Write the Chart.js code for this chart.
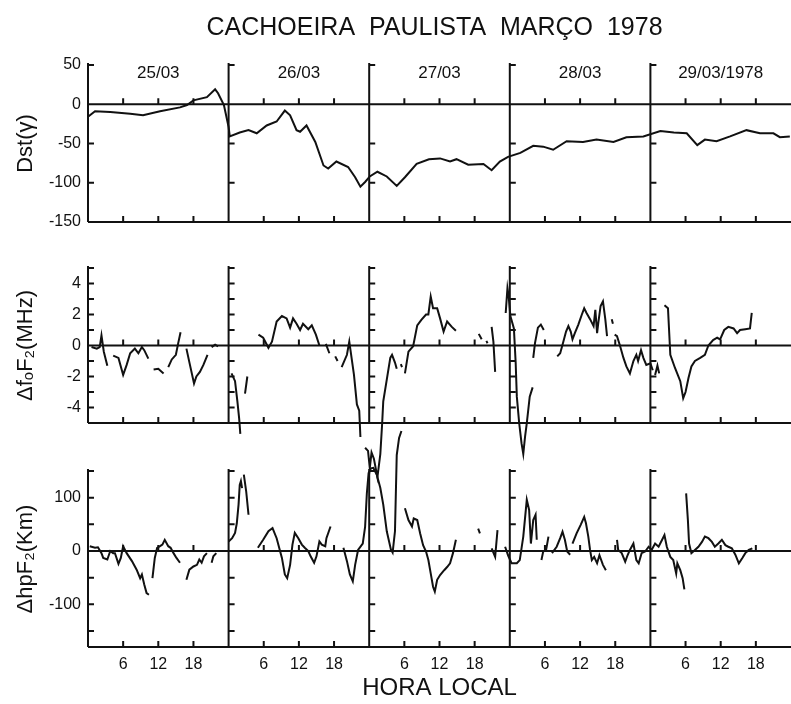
<!DOCTYPE html>
<html>
<head>
<meta charset="utf-8">
<script src="https://cdn.jsdelivr.net/npm/chart.js@4"></script>
<style>
  html, body { margin: 0; padding: 0; background: #fff; }
  #wrap { position: relative; width: 791px; height: 704px; }
  #wrap canvas { position: absolute; left: 0; top: 0; }
</style>
</head>
<body>
<div id="wrap">
  <canvas id="dst" width="791" height="704"></canvas>
  <canvas id="fof2" width="791" height="704"></canvas>
  <canvas id="hpf2" width="791" height="704"></canvas>
</div>
<script>
// Cachoeira Paulista, March 1978 - Dst, foF2 and hpF2 deviations

const INK = "#111";
const FONT = "'Liberation Sans', Arial, sans-serif";

const chartTitle = "CACHOEIRA  PAULISTA  MARÇO  1978";
const dayStarts = [0, 24, 48, 72, 96];
const dayLabels = ["25/03", "26/03", "27/03", "28/03", "29/03/1978"];
const hourMarks = [6, 12, 18];

// Dst (gamma), hours since 25/03 00h local time
const dstHours = [
  0, 1.2, 3.8, 7.2, 9.4, 12.3, 15.7, 16.9, 18, 20.3, 21.7, 22.2, 23.2, 24, 24.2,
  25.9, 27.4, 28.8, 30.5, 32.2, 33.6, 34.5, 35.6, 36.2, 37.3, 38.8, 40.2, 41, 42.4, 44.4, 45.6, 46.5, 47.3,
  48.1, 49.4, 51, 52.7, 54.1, 56.1, 58.2, 60.1, 61.8, 62.9, 64.9, 67.5, 68.9, 70.3, 71.7,
  73.8, 76, 77.7, 79.4, 81.7, 84.5, 86.8, 89.7, 91.9, 94.8,
  97.7, 100, 102.2, 104, 105.3, 107.3, 109.6, 112.4, 114.7, 117, 118.1, 119.8,
];
const dstValues = [
  -16, -9, -10, -12, -14, -9, -4, -1, 5, 9, 19, 14, -1, -29, -41,
  -36, -33, -37, -27, -22, -8, -14, -33, -35, -27, -48, -78, -82, -73, -80, -93, -105, -99,
  -92, -86, -92, -104, -93, -76, -70, -69, -73, -70, -77, -76, -84, -73, -67,
  -62, -53, -54, -58, -47, -48, -45, -48, -42, -41,
  -34, -36, -37, -52, -45, -47, -41, -33, -37, -37, -42, -41,
];

// delta foF2 (MHz); null = no sounding
const fof2Hours = [
  0.6, 1.5, 2.0, 2.3, 2.7, 3.3, 3.8,
  4.3, 5.2, 6.0, 6.6, 7.2, 8.0, 8.6, 9.2, 9.6, 10.3, 10.8,
  11.2, 12.0, 12.9, 13.3,
  13.7, 14.3, 15.0, 15.4, 15.8, 16.3,
  16.8, 17.4, 18.1, 18.5, 19.1, 19.7, 20.4, 20.8,
  21.1, 21.7, 22.2, 23.0,
  24.5, 25.1, 25.5, 25.8, 26.0, 26.4,
  26.8, 27.2, 28.0,
  29.1, 29.9, 30.8, 31.4, 32.2, 33.1, 33.9, 34.5, 35.0, 35.6, 36.2, 36.7, 37.6, 38.2, 38.9, 39.5, 40.0,
  40.6, 41.2, 41.7,
  42.2, 42.6, 43.0,
  43.3, 44.2, 44.6, 45.4, 45.9, 46.3, 46.5, 46.9,
  47.3, 47.8, 48.1, 48.4, 48.8, 49.4, 49.9, 50.2, 50.4, 51.0, 51.6, 51.9, 52.4, 52.7, 53.0,
  53.4, 53.6, 53.8,
  54.1, 54.7, 55.5, 56.2, 56.9, 57.7, 58.1, 58.5, 58.9, 59.6, 60.1, 60.7, 61.3, 62.1, 62.8, 64.0,
  66.7, 67.2, 67.6,
  68.0, 68.2, 68.5,
  68.9, 69.2, 69.5, 70.0,
  71.3, 71.6, 71.8, 72.1, 72.7, 73.0, 73.2, 73.6, 74.0, 74.3, 74.6, 74.9, 75.4, 75.9, 75.95,
  76.0, 76.3, 76.8, 77.3, 77.8, 78.5,
  80.1, 80.6, 81.0, 81.6, 82.0, 82.4, 82.7, 83.1, 83.7, 84.3, 84.7, 85.1, 85.7, 86.3, 86.6, 86.9, 87.1, 87.5, 87.9, 88.3, 88.6, 89.0,
  89.4, 89.6, 89.75,
  89.9, 90.3, 90.8, 91.4, 91.9, 92.5, 93.1, 93.6, 93.9, 94.4, 94.8, 95.3, 96.0, 96.4, 96.6,
  96.8, 97.2, 97.5, 98.0,
  98.4, 99.0, 99.4, 100.2, 101.1, 101.6, 102.0, 102.5, 103.0, 103.6, 104.5, 105.3, 105.9, 106.7, 107.4, 107.9, 108.6, 109.3, 110.2, 110.8, 111.3, 112.2, 113.0, 113.3,
];
const fof2Values = [
  -0.1, -0.2, -0.1, 0.65, -0.4, -1.3, null,
  -0.65, -0.8, -1.9, -1.25, -0.5, -0.2, -0.5, -0.1, -0.3, -0.85, null,
  -1.55, -1.5, -1.8, null,
  -1.4, -0.9, -0.6, 0.15, 0.85, null,
  -0.2, -1.25, -2.45, -2.0, -1.7, -1.25, -0.6, null,
  -0.1, 0.05, -0.05, null,
  -1.8, -2.3, -3.6, -4.7, -5.7, null,
  -3.1, -2.0, null,
  0.7, 0.5, -0.15, 0.25, 1.55, 1.9, 1.75, 1.15, 1.75, 1.4, 1.0, 1.4, 1.05, 1.3, 0.7, 0.0, null,
  0.1, -0.5, null,
  -0.7, -1.0, null,
  -1.4, -0.6, 0.25, -1.9, -3.8, -4.2, -5.9, null,
  -6.6, -6.8, -7.9, -6.9, -7.3, -8.5, -7.0, -5.1, -3.6, -2.2, -0.8, -0.6, -1.1, -1.5, null,
  -1.2, -1.4, null,
  -1.8, -0.4, -0.05, 1.3, 1.65, 2.0, 2.0, 3.15, 2.4, 2.4, 1.75, 0.9, 1.55, 1.2, 0.95, null,
  0.75, 0.4, null,
  0.3, 0.15, null,
  1.2, 0.25, -1.7, null,
  2.1, 3.7, 3.2, 1.9, 1.1, -1.1, -3.3, -5.0, -6.3, -7.0, -5.9, -5.0, -3.3, -2.7, null,
  -0.8, 0.15, 1.15, 1.35, 1.0, null,
  -0.7, -0.5, 0.05, 0.9, 1.25, 0.9, 0.4, 0.8, 1.35, 2.0, 2.4, 2.1, 1.7, 1.25, 2.3, 0.8, 1.45, 2.55, 2.85, 1.7, 0.6, null,
  1.7, 1.4, null,
  0.7, 0.6, 0.0, -0.8, -1.35, -1.8, -1.0, -0.6, -1.0, -0.3, -0.8, -1.25, -1.15, -1.6, null,
  -1.9, -1.3, -1.8, null,
  2.6, 2.4, -0.6, -1.45, -2.3, -3.4, -3.0, -2.1, -1.35, -1.0, -0.8, -0.6, 0.0, 0.35, 0.5, 0.4, 1.0, 1.2, 1.1, 0.8, 1.0, 1.05, 1.1, 2.1,
];

// delta hpF2 (km); null = no sounding
const hpf2Hours = [
  0.3, 1.2, 1.7, 2.3, 2.6, 3.3, 3.8, 4.3, 4.6, 5.2, 5.6, 6.0, 6.6, 7.5, 8.3, 8.9, 9.2, 9.6, 10.0, 10.4, 10.7,
  11.0, 11.4, 11.8, 12.3, 12.7, 13.1, 13.7, 14.1, 14.6, 15.1, 15.7, 16.3,
  16.8, 17.3, 18.0, 18.6, 19.0, 19.4, 19.8, 20.3, 20.7,
  21.1, 21.4, 21.9, 23.0,
  24.0, 24.6, 25.1, 25.4, 25.7, 25.9, 26.1, 26.3, 26.45,
  26.6, 27.0, 27.4, 28.2,
  29.0, 29.9, 30.8, 31.5, 32.2, 33.1, 33.6, 34.0, 34.5, 34.9, 35.3, 35.9, 36.5, 37.0, 37.6, 38.0, 38.6, 39.0, 39.5, 39.9, 40.5, 40.7, 41.4, 42.5,
  43.6, 44.2, 44.7, 45.2, 45.6, 46.1, 46.9, 47.3, 47.6, 47.9, 48.3, 48.7, 49.3, 49.9, 50.4, 51.0, 51.7, 52.0, 52.4, 52.7, 53.1, 53.5, 53.8,
  54.1, 54.7, 55.3, 55.6, 56.2, 56.7, 57.2, 57.7, 58.1, 58.5, 58.9, 59.2, 59.6, 60.1, 60.8, 61.3, 61.8, 62.3, 62.8, 64.0,
  66.6, 66.9, 67.5,
  68.9, 69.5, 69.9, 70.5,
  71.2, 71.7, 72.3, 73.2, 73.7, 74.3, 74.9, 75.3, 75.6, 76.0, 76.4, 76.6, 77.0,
  77.4, 77.7, 78.2, 78.6, 78.9,
  79.2, 80.0, 80.6, 81.0, 81.4, 81.8, 82.3, 82.5,
  82.7, 83.4, 84.1, 84.7, 85.0, 85.4, 85.7, 86.0, 86.4, 86.9, 87.3, 87.9, 88.4, 89.0,
  90.3, 90.5, 91.1, 91.7, 92.1, 92.5, 93.1, 93.6, 94.0, 94.5, 95.1, 95.7, 96.2, 96.8, 97.4, 98.0, 98.4, 98.8, 99.4, 99.9, 100.4, 100.6, 101.1, 101.5, 101.8, 101.95,
  102.1, 102.4, 102.6, 103.0, 103.6, 104.2, 104.8, 105.3, 105.9, 106.5, 107.0, 107.6, 108.2, 108.8, 109.3, 109.9, 110.5, 111.1, 111.7, 112.2, 112.8, 113.4,
];
const hpf2Values = [
  9, 6, 7, -4, -13, -16, 0, -4, -4, -24, -13, 9, -4, -19, -35, -51, -44, -63, -79, -82, null,
  -51, -13, 6, 9, 12, 21, 9, 6, -4, -13, -22, null,
  -54, -35, -29, -26, -16, -22, -10, -4, null,
  -22, -10, -4, null,
  18, 24, 34, 52, 87, 124, 131, 118, null,
  143, 112, 68, null,
  6, 21, 37, 43, 24, -13, -44, -51, -26, 12, 34, 24, 12, 6, 0, -10, -22, -10, 18, 12, 9, 24, 46, null,
  6, -19, -44, -57, -26, 2, 14, 45, 108, 146, 155, 156, 143, 118, 87, 37, 3, -3, 37, 180, 212, 225, null,
  80, 58, 46, 61, 58, 33, 11, -1, -17, -42, -67, -76, -54, -45, -36, -30, -23, -4, 21, null,
  42, 33, null,
  5, -11, 39, null,
  8, -8, -23, -23, -17, 27, 96, 77, 14, 58, 68, 21, null,
  -17, -1, 2, 27, null,
  -4, 8, 24, 36, 21, -1, -7, null,
  14, 33, 49, 64, 52, 27, 2, -17, -11, -23, -8, -26, -36, null,
  21, 2, -4, -20, -8, 2, 14, -17, -23, -4, -1, 8, 2, 14, 8, 21, 30, 8, -11, -17, -42, -23, -36, -51, -72, null,
  108, 58, 14, -4, 2, 8, 17, 27, 24, 17, 8, 14, 21, 11, 8, 5, -7, -23, -13, -4, 2, 5,
];

const dstTicks = [-150, -100, -50, 0, 50];
const fof2Ticks = [-5, -4, -3, -2, -1, 0, 1, 2, 3, 4, 5];
const fof2Labelled = [-4, -2, 0, 2, 4];
const hpf2Ticks = [-150, -100, -50, 0, 50, 100, 150];
const hpf2Labelled = [-100, 0, 100];

function toPoints(hours, values) {
  return hours.map((h, i) => ({ x: h, y: values[i] }));
}

// frame of each panel: zero line, bottom line, day separators with inward ticks
const framePlugin = {
  id: "frame",
  beforeDatasetsDraw(chart, args, opts) {
    const { ctx, chartArea: { left, right, top, bottom }, scales: { x, y } } = chart;
    const y0 = y.getPixelForValue(0);
    ctx.save();
    ctx.strokeStyle = INK;
    ctx.lineWidth = 2;
    ctx.beginPath();
    ctx.moveTo(left, y0);
    ctx.lineTo(right, y0);
    ctx.moveTo(left, bottom);
    ctx.lineTo(right, bottom);
    dayStarts.forEach((d) => {
      const px = x.getPixelForValue(d);
      ctx.moveTo(px, top - 2);
      ctx.lineTo(px, bottom);
      opts.sepTicks.forEach((v) => {
        const py = y.getPixelForValue(v);
        ctx.moveTo(px, py);
        ctx.lineTo(px + 6, py);
      });
      hourMarks.forEach((h) => {
        const hx = x.getPixelForValue(d + h);
        ctx.moveTo(hx, y0);
        ctx.lineTo(hx, y0 - 6);
        ctx.moveTo(hx, bottom);
        ctx.lineTo(hx, bottom - 6);
      });
    });
    ctx.stroke();

    ctx.fillStyle = INK;
    ctx.textAlign = "center";
    ctx.textBaseline = "middle";
    if (opts.dayLabels) {
      ctx.font = "17px " + FONT;
      dayStarts.forEach((d, i) => {
        ctx.fillText(opts.dayLabels[i], x.getPixelForValue(d + 12), top + 8);
      });
    }
    if (opts.heading) {
      ctx.font = "25px " + FONT;
      ctx.fillText(opts.heading, (left + right) / 2 - 5, 28);
    }
    ctx.restore();
  },
};

function makePanel(id, cfg) {
  const yScale = {
    min: cfg.min,
    max: cfg.max,
    afterBuildTicks: (s) => { s.ticks = cfg.ticks.map((v) => ({ value: v })); },
    afterFit: (s) => { s.width = 88; },
    grid: { display: false, drawTicks: false },
    border: { display: false },
    ticks: {
      color: INK,
      padding: 7,
      autoSkip: false,
      font: { family: FONT, size: 16 },
      callback: (v) => (cfg.labelled.includes(v) ? String(v) : ""),
    },
    title: {
      display: true,
      text: cfg.title,
      color: INK,
      font: { family: FONT, size: 22 },
      padding: { top: 13, bottom: 0 },
    },
  };

  const xScale = {
    type: "linear",
    min: 0,
    max: 120,
    display: !!cfg.showX,
    afterBuildTicks: (s) => {
      const t = [];
      for (let h = 6; h < 120; h += 6) if (h % 24) t.push({ value: h });
      s.ticks = t;
    },
    afterFit: (s) => { s.height = cfg.showX ? 57 : 0; },
    grid: { display: false, drawTicks: false },
    border: { display: false },
    ticks: {
      color: INK,
      padding: 8,
      autoSkip: false,
      maxRotation: 0,
      font: { family: FONT, size: 16 },
      callback: (v) => String(v % 24),
    },
    title: {
      display: true,
      text: "HORA LOCAL",
      color: INK,
      font: { family: FONT, size: 24 },
      padding: { top: 0, bottom: 1 },
    },
  };

  return new Chart(document.getElementById(id), {
    type: "line",
    data: {
      datasets: [{
        data: toPoints(cfg.hours, cfg.values),
        borderColor: INK,
        borderWidth: 2,
        pointRadius: 0,
        tension: 0,
        spanGaps: false,
        clip: false,
      }],
    },
    options: {
      responsive: false,
      animation: false,
      layout: { padding: cfg.padding },
      scales: { x: xScale, y: yScale },
      plugins: {
        legend: { display: false },
        tooltip: { enabled: false },
        title: { display: false },
        frame: { sepTicks: cfg.ticks, dayLabels: cfg.dayLabels, heading: cfg.heading },
      },
    },
    plugins: [framePlugin],
  });
}

makePanel("dst", {
  hours: dstHours,
  values: dstValues,
  min: -150,
  max: 50,
  ticks: dstTicks,
  labelled: dstTicks,
  title: "Dst(γ)",
  heading: chartTitle,
  dayLabels: dayLabels,
  padding: { top: 65, left: 0, right: 0, bottom: 704 - 222 },
});

makePanel("fof2", {
  hours: fof2Hours,
  values: fof2Values,
  min: -5,
  max: 5,
  ticks: fof2Ticks,
  labelled: fof2Labelled,
  title: "ΔfₒF₂(MHz)",
  padding: { top: 268, left: 0, right: 0, bottom: 704 - 423 },
});

makePanel("hpf2", {
  hours: hpf2Hours,
  values: hpf2Values,
  min: -180,
  max: 150,
  ticks: hpf2Ticks,
  labelled: hpf2Labelled,
  title: "ΔhpF₂(Km)",
  showX: true,
  padding: { top: 471, left: 0, right: 0, bottom: 0 },
});
</script>
</body>
</html>
